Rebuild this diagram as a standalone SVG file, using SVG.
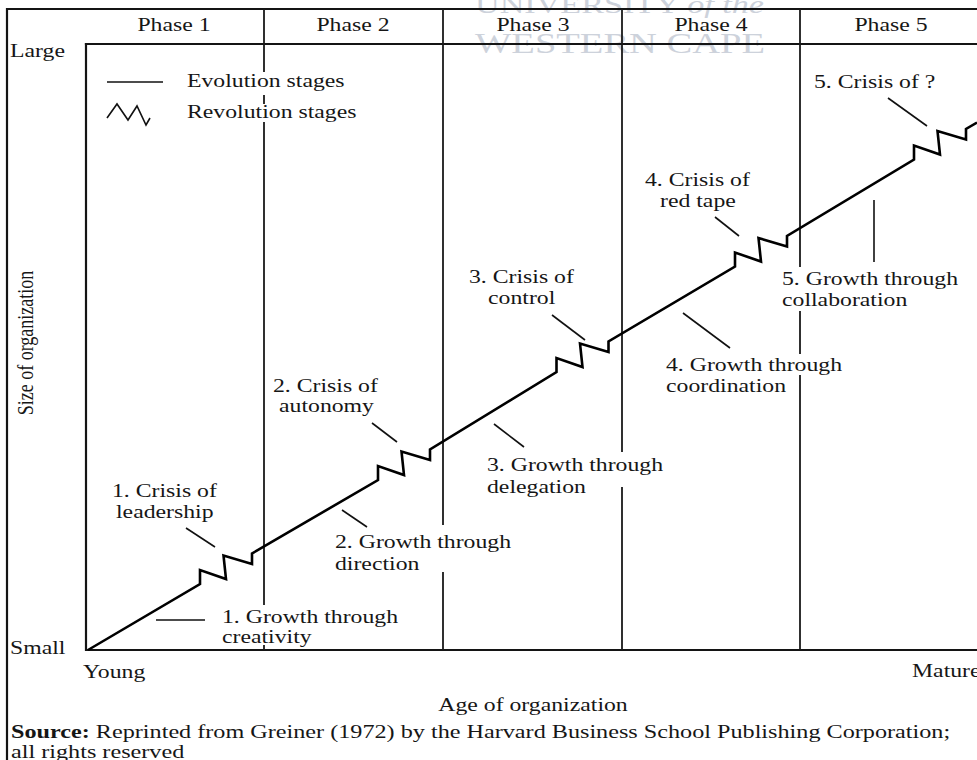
<svg xmlns="http://www.w3.org/2000/svg" width="977" height="760" viewBox="0 0 977 760">
  <style>
    .t { font-family: "Liberation Serif", "Times New Roman", serif; font-size: 18px; fill: #161616; }
    .wm { font-family: "Liberation Serif", "Times New Roman", serif; fill: #cdd2db; }
    .frame { stroke: #141414; stroke-width: 2.2; fill: none; stroke-linecap: square; }
    .div { stroke: #1a1a1a; stroke-width: 1.8; fill: none; }
    .curve { stroke: #000; stroke-width: 2.6; fill: none; stroke-linejoin: miter; stroke-miterlimit: 10; }
    .lead { stroke: #111; stroke-width: 1.6; fill: none; }
  </style>

  <rect width="977" height="760" fill="#ffffff"/>

  <!-- faint watermark behind the header -->
  <g id="watermark">
    <text class="wm" x="475" y="13" font-size="26" textLength="289" lengthAdjust="spacingAndGlyphs">UNIVERSITY <tspan font-style="italic">of the</tspan></text>
    <text class="wm" x="475" y="53" font-size="30" textLength="290" lengthAdjust="spacingAndGlyphs">WESTERN CAPE</text>
  </g>

  <!-- outer frame and plot box -->
  <g id="frame">
    <path class="frame" d="M7,760 V9 H977"/>
    <path class="frame" d="M86,44 H977"/>
    <path class="frame" d="M86,44 V650 H977"/>
  </g>

  <!-- phase dividers, broken where labels sit -->
  <g id="phase-dividers">
    <path class="div" d="M264,9 V72 M264,95 V104 M264,122 V605 M264,645 V650"/>
    <path class="div" d="M443,9 V525 M443,572 V650"/>
    <path class="div" d="M622,9 V452 M622,487 V650"/>
    <path class="div" d="M800,9 V267 M800,311 V354 M800,375 V650"/>
  </g>

  <!-- phase headers -->
  <g id="phase-1"><text class="t" text-anchor="middle" transform="translate(174,31) scale(1.32,1)">Phase 1</text></g>
  <g id="phase-2"><text class="t" text-anchor="middle" transform="translate(353,31) scale(1.32,1)">Phase 2</text></g>
  <g id="phase-3"><text class="t" text-anchor="middle" transform="translate(533,31) scale(1.32,1)">Phase 3</text></g>
  <g id="phase-4"><text class="t" text-anchor="middle" transform="translate(711,31) scale(1.32,1)">Phase 4</text></g>
  <g id="phase-5"><text class="t" text-anchor="middle" transform="translate(891,31) scale(1.32,1)">Phase 5</text></g>

  <!-- axis labels -->
  <g id="axis-y">
    <text class="t" transform="translate(10,57) scale(1.32,1)">Large</text>
    <text class="t" transform="translate(10,654) scale(1.32,1)">Small</text>
    <text class="t" font-size="16.5" text-anchor="middle" transform="translate(33,343) scale(1.32,1) rotate(-90)">Size of organization</text>
  </g>
  <g id="axis-x">
    <text class="t" transform="translate(83,678) scale(1.32,1)">Young</text>
    <text class="t" transform="translate(912,677) scale(1.32,1)">Mature</text>
    <text class="t" text-anchor="middle" transform="translate(533,711) scale(1.32,1)">Age of organization</text>
  </g>

  <!-- legend -->
  <g id="legend">
    <line class="lead" x1="107" y1="82" x2="163" y2="82" stroke-width="2"/>
    <text class="t" transform="translate(187,87) scale(1.32,1)">Evolution stages</text>
    <path class="lead" stroke-width="2.2" d="M107,118 L117,104 L128,120 L137,106 L146,125 L150,118"/>
    <text class="t" transform="translate(187,118) scale(1.32,1)">Revolution stages</text>
  </g>

  <!-- growth line: evolution segments joined by revolution zigzags -->
  <g id="growth-curve">
    <path class="curve" d="M88,650 L200,584 L200,570 L226,579 L223.5,555.5 L252,564 L252,553.5
      L378,480 L378,466 L404,475 L401.5,451.5 L430,460 L430,449.5
      L556.5,372 L556.5,358 L582.5,367 L580,343.5 L608.5,352 L608.5,341.5
      L735,266.5 L735,252.5 L761,261.5 L758.5,238 L787,246.5 L787,236
      L914,159.5 L914,145.5 L940,154.5 L937.5,131 L966,139.5 L966,129 L977,122.5"/>
  </g>

  <!-- leader lines from labels to the curve -->
  <g id="connectors">
    <line class="lead" x1="186" y1="528" x2="215" y2="547"/>
    <line class="lead" x1="372" y1="423" x2="397" y2="442"/>
    <line class="lead" x1="552" y1="315" x2="585" y2="340"/>
    <line class="lead" x1="715" y1="217" x2="739" y2="236"/>
    <line class="lead" x1="888" y1="98" x2="927" y2="126"/>
    <line class="lead" x1="156" y1="620" x2="205" y2="620"/>
    <line class="lead" x1="342" y1="510" x2="367" y2="527"/>
    <line class="lead" x1="494" y1="424" x2="524" y2="447"/>
    <line class="lead" x1="683" y1="313" x2="730" y2="348"/>
    <line class="lead" x1="874" y1="200" x2="874" y2="262"/>
  </g>

  <!-- crisis labels -->
  <g id="crisis-1">
    <text class="t" transform="translate(112,497) scale(1.32,1)">1. Crisis of</text>
    <text class="t" transform="translate(116,518) scale(1.32,1)">leadership</text>
  </g>
  <g id="crisis-2">
    <text class="t" transform="translate(273,392) scale(1.32,1)">2. Crisis of</text>
    <text class="t" transform="translate(279,412) scale(1.32,1)">autonomy</text>
  </g>
  <g id="crisis-3">
    <text class="t" transform="translate(469,283) scale(1.32,1)">3. Crisis of</text>
    <text class="t" transform="translate(488,304) scale(1.32,1)">control</text>
  </g>
  <g id="crisis-4">
    <text class="t" transform="translate(645,186) scale(1.32,1)">4. Crisis of</text>
    <text class="t" transform="translate(660,207) scale(1.32,1)">red tape</text>
  </g>
  <g id="crisis-5">
    <text class="t" transform="translate(814,88) scale(1.32,1)">5. Crisis of ?</text>
  </g>

  <!-- growth labels -->
  <g id="growth-1">
    <text class="t" transform="translate(222,623) scale(1.32,1)">1. Growth through</text>
    <text class="t" transform="translate(222,643) scale(1.32,1)">creativity</text>
  </g>
  <g id="growth-2">
    <text class="t" transform="translate(335,548) scale(1.32,1)">2. Growth through</text>
    <text class="t" transform="translate(335,570) scale(1.32,1)">direction</text>
  </g>
  <g id="growth-3">
    <text class="t" transform="translate(487,471) scale(1.32,1)">3. Growth through</text>
    <text class="t" transform="translate(487,493) scale(1.32,1)">delegation</text>
  </g>
  <g id="growth-4">
    <text class="t" transform="translate(666,371) scale(1.32,1)">4. Growth through</text>
    <text class="t" transform="translate(666,392) scale(1.32,1)">coordination</text>
  </g>
  <g id="growth-5">
    <text class="t" transform="translate(782,285) scale(1.32,1)">5. Growth through</text>
    <text class="t" transform="translate(782,306) scale(1.32,1)">collaboration</text>
  </g>

  <!-- source note -->
  <g id="source">
    <text class="t" transform="translate(11,738) scale(1.344,1)"><tspan font-weight="bold">Source:</tspan> Reprinted from Greiner (1972) by the Harvard Business School Publishing Corporation;</text>
    <text class="t" transform="translate(11,758) scale(1.344,1)">all rights reserved</text>
  </g>
</svg>
